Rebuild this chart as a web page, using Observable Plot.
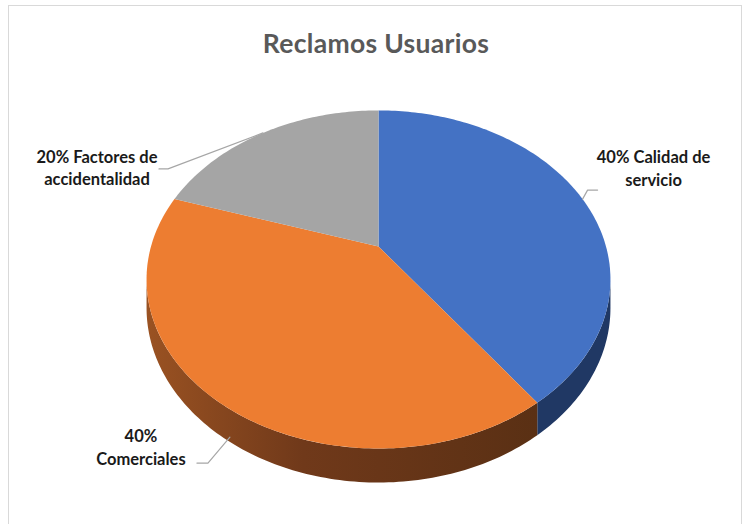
<!DOCTYPE html>
<html><head><meta charset="utf-8">
<script src="https://cdn.jsdelivr.net/npm/d3@7"></script>
<script src="https://cdn.jsdelivr.net/npm/@observablehq/plot@0.6"></script>
<style>
html,body{margin:0;padding:0;background:#fff;overflow:hidden;width:744px;height:524px;}
#frame{position:absolute;left:8px;top:5px;width:734px;height:600px;border:1px solid #d9d9d9;box-sizing:border-box;pointer-events:none;z-index:5;}
#title{height:76px;box-sizing:border-box;padding-top:29px;padding-left:8px;text-align:center;font-family:Lato,sans-serif;font-weight:bold;font-size:26.5px;letter-spacing:0.3px;line-height:28px;color:#595959;white-space:nowrap;}
#chart svg{display:block}
</style></head><body>
<div id="frame"></div>
<div id="title">Reclamos Usuarios</div>
<div id="chart"></div>
<script>
// ---- data ----
const categories = ["Calidad de servicio", "Comerciales", "Factores de accidentalidad"];
const values = [40, 40, 20];
const labelLines = [["40% Calidad de", "servicio"], ["40%", "Comerciales"], ["20% Factores de", "accidentalidad"]];
const topColors = ["#4472C4", "#ED7D31", "#A5A5A5"];
const sideColors = ["#203864", "url(#sideOrange)", "#5f5f5f"];

// ---- layout (3D pie with perspective) ----
const W = 744, H = 524, TOP = 76;
const cx = 378, cy = 246, A = 227.5, B = 162.6, K = 0.195, DEPTH = 27.4;
const rad = d => d * Math.PI / 180;
function proj(deg, drop = 0) {
  const t = rad(deg), s = 1 + K * Math.cos(t);
  return [cx + A * Math.sin(t) / s, cy - B * Math.cos(t) / s + drop / s];
}
const total = d3.sum(values);
let acc = 0;
const slices = values.map((v, i) => {
  const a0 = acc / total * 360; acc += v; const a1 = acc / total * 360;
  return {i, cat: categories[i], a0, a1};
});
function arcPts(a0, a1, drop) {
  const n = Math.max(2, Math.ceil(Math.abs(a1 - a0)));
  return d3.range(n + 1).map(j => proj(a0 + (a1 - a0) * j / n, drop));
}
const vis0 = Math.acos(-K) * 180 / Math.PI, vis1 = 360 - vis0;

const labelLayout = [
  {at: 0.5,  drop: 0,    elbow: [5, -9],    tail: 10,  off: [56, -27]},
  {at: 0.48, drop: 0.85, elbow: [-22, 26],  tail: -11, off: [-56, -21]},
  {at: 0.5,  drop: 0,    elbow: [-95, 36],  tail: -9,  off: [-62, -6]}
];
const LINE_GAP = 22.5;

const topPts = s => [[cx, cy], ...arcPts(s.a0, s.a1, 0)].map(([x, y]) => ({x, y}));
const sidePts = s => {
  const a = Math.max(s.a0, vis0), b = Math.min(s.a1, vis1);
  if (a >= b) return [];
  return [...arcPts(a, b, 0), ...arcPts(b, a, DEPTH)].map(([x, y]) => ({x, y}));
};
const shadowPts = arcPts(vis0 - 4, vis1 + 4, DEPTH + 3).map(([x, y]) => ({x, y}));

const leaderPts = [], labelRows = [];
slices.forEach(s => {
  const L = labelLayout[s.i];
  const [ax, ay] = proj(s.a0 + (s.a1 - s.a0) * L.at, DEPTH * L.drop);
  const ex = ax + L.elbow[0], ey = ay + L.elbow[1], tx = ex + L.tail;
  [[ax, ay], [ex, ey], [tx, ey]].forEach(([x, y]) => leaderPts.push({x, y, slice: s.cat}));
  labelLines[s.i].forEach((t, j) => labelRows.push({x: tx + L.off[0], y: ey + L.off[1] + j * LINE_GAP, text: t}));
});

const chart = Plot.plot({
  width: W, height: H - TOP, margin: 0,
  x: {domain: [0, W], range: [0, W], axis: null},
  y: {domain: [TOP, H], range: [0, H - TOP], axis: null},
  style: {background: "transparent", overflow: "visible"},
  marks: [
    Plot.line(shadowPts, {x: "x", y: "y", stroke: "#000", strokeOpacity: 0.22, strokeWidth: 7, ariaLabel: "shadow"}),
    ...slices.map(s => Plot.line(sidePts(s), {x: "x", y: "y", fill: sideColors[s.i], stroke: "none", curve: "linear-closed"})),
    ...slices.map(s => Plot.line(topPts(s), {x: "x", y: "y", fill: topColors[s.i], stroke: "none", curve: "linear-closed"})),
    Plot.line(leaderPts, {x: "x", y: "y", z: "slice", stroke: "#A6A6A6", strokeWidth: 1.2}),
    Plot.text(labelRows, {x: "x", y: "y", text: "text", fill: "#1a1a1a", fontSize: 16.5, fontWeight: "bold",
      fontFamily: "Lato", lineAnchor: "bottom", textAnchor: "middle"})
  ]
});
const svg = d3.select(chart);
const defs = svg.insert("defs", ":first-child");
const g = defs.append("linearGradient").attr("id", "sideOrange").attr("x1", "0").attr("x2", "1").attr("y1", "0").attr("y2", "0");
[[0, "#9A5222"], [0.4, "#70391A"], [1, "#5A3014"]].forEach(([o, c]) => g.append("stop").attr("offset", o).attr("stop-color", c));
defs.append("filter").attr("id", "blur").attr("x", "-10%").attr("y", "-60%").attr("width", "120%").attr("height", "220%")
  .append("feGaussianBlur").attr("stdDeviation", 4);
svg.select('g[aria-label="shadow"]').attr("filter", "url(#blur)");
document.getElementById("chart").appendChild(chart);
</script>
</body></html>
